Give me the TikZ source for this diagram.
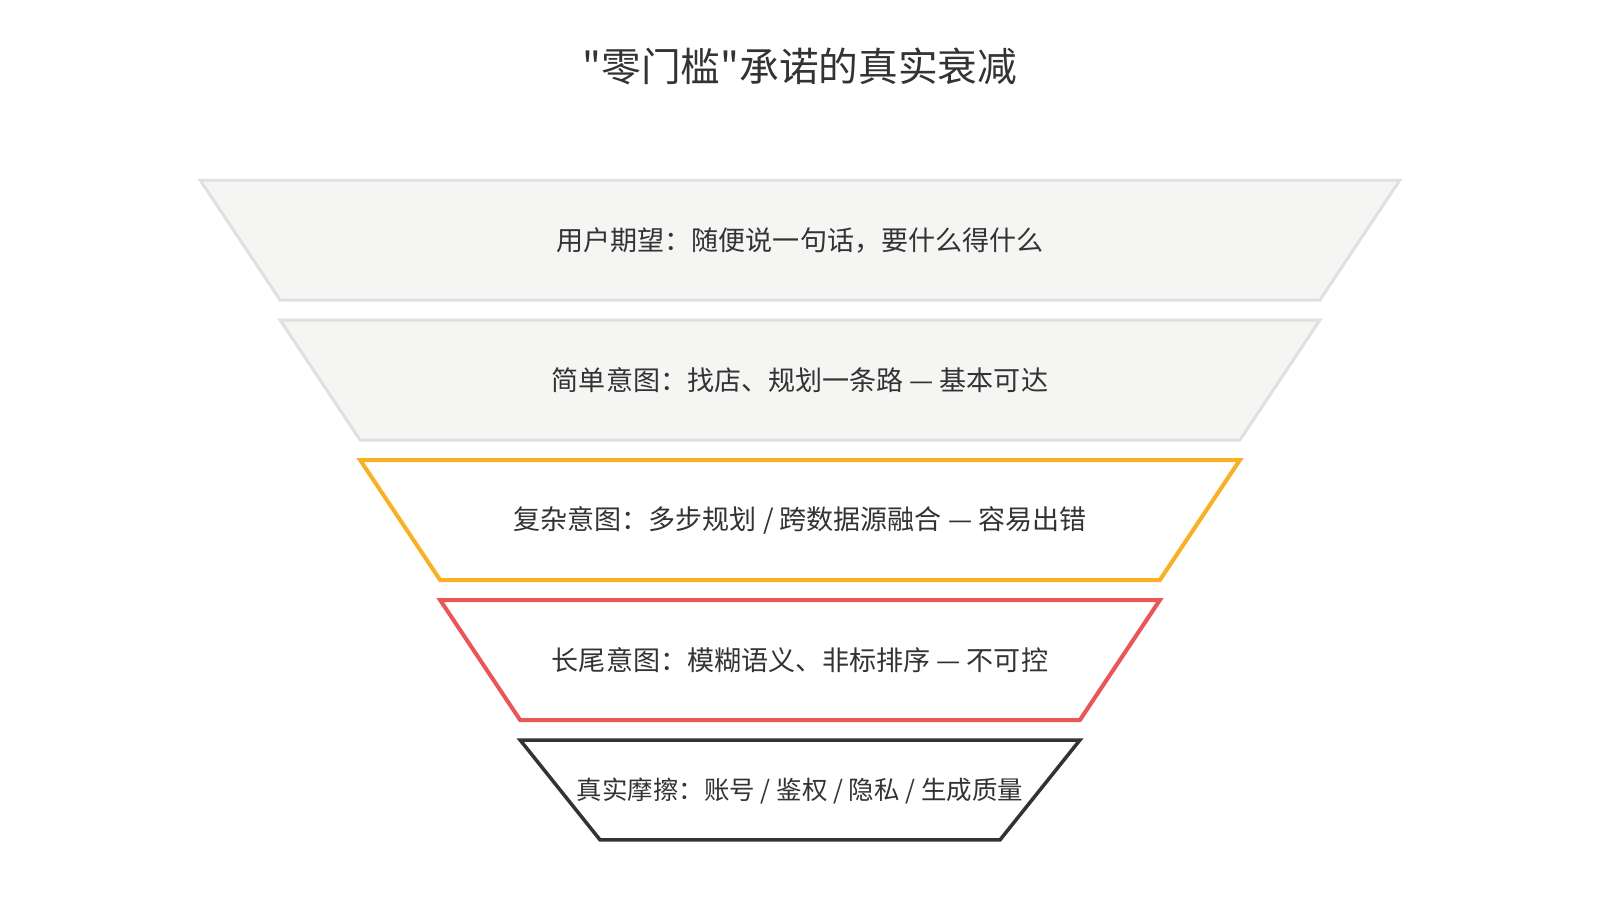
\documentclass[tikz,border=0pt]{standalone}
\usepackage{fontspec}
\newfontfamily\cjkfont{Noto Sans CJK SC}
\usepackage{xcolor}
\definecolor{cFill}{HTML}{F5F5F3}
\definecolor{cLine}{HTML}{E0E0E0}
\definecolor{cOrange}{HTML}{F8B124}
\definecolor{cRed}{HTML}{EA5658}
\definecolor{cDark}{HTML}{333333}
\definecolor{cText}{HTML}{333333}

\begin{document}
\begin{tikzpicture}[
  every node/.style={text=cText, font=\cjkfont\fontsize{15.4pt}{18pt}\selectfont},
  layer/.style={line width=1.7pt, line join=miter},
]

\draw[white] (0,0) rectangle (32,18);
\node (title) [font=\cjkfont\fontsize{22.6pt}{27pt}\selectfont] at (16,16.68) {"零门槛"承诺的真实衰减};

\draw[layer, draw=cLine, fill=cFill] (4,14.4) -- (28,14.4) -- (26.4,12) -- (5.6,12) -- cycle;
\node (expect) at (16,13.2) {用户期望：随便说一句话，要什么得什么};

\draw[layer, draw=cLine, fill=cFill] (5.6,11.6) -- (26.4,11.6) -- (24.8,9.2) -- (7.2,9.2) -- cycle;
\node (simple) at (16,10.4) {简单意图：找店、规划一条路 — 基本可达};

\draw[layer, draw=cOrange, fill=white, line width=2.3pt] (7.2,8.8) -- (24.8,8.8) -- (23.2,6.4) -- (8.8,6.4) -- cycle;
\node (complex) at (16,7.6) {复杂意图：多步规划 / 跨数据源融合 — 容易出错};

\draw[layer, draw=cRed, fill=white, line width=2.3pt] (8.8,6) -- (23.2,6) -- (21.6,3.6) -- (10.4,3.6) -- cycle;
\node (longtail) at (16,4.8) {长尾意图：模糊语义、非标排序 — 不可控};

\draw[layer, draw=cDark, fill=white, line width=2pt] (10.4,3.2) -- (21.6,3.2) -- (20,1.2) -- (12,1.2) -- cycle;
\node (friction) [font=\cjkfont\fontsize{14.5pt}{17pt}\selectfont] at (16,2.18) {真实摩擦：账号 / 鉴权 / 隐私 / 生成质量};

\end{tikzpicture}
\end{document}
